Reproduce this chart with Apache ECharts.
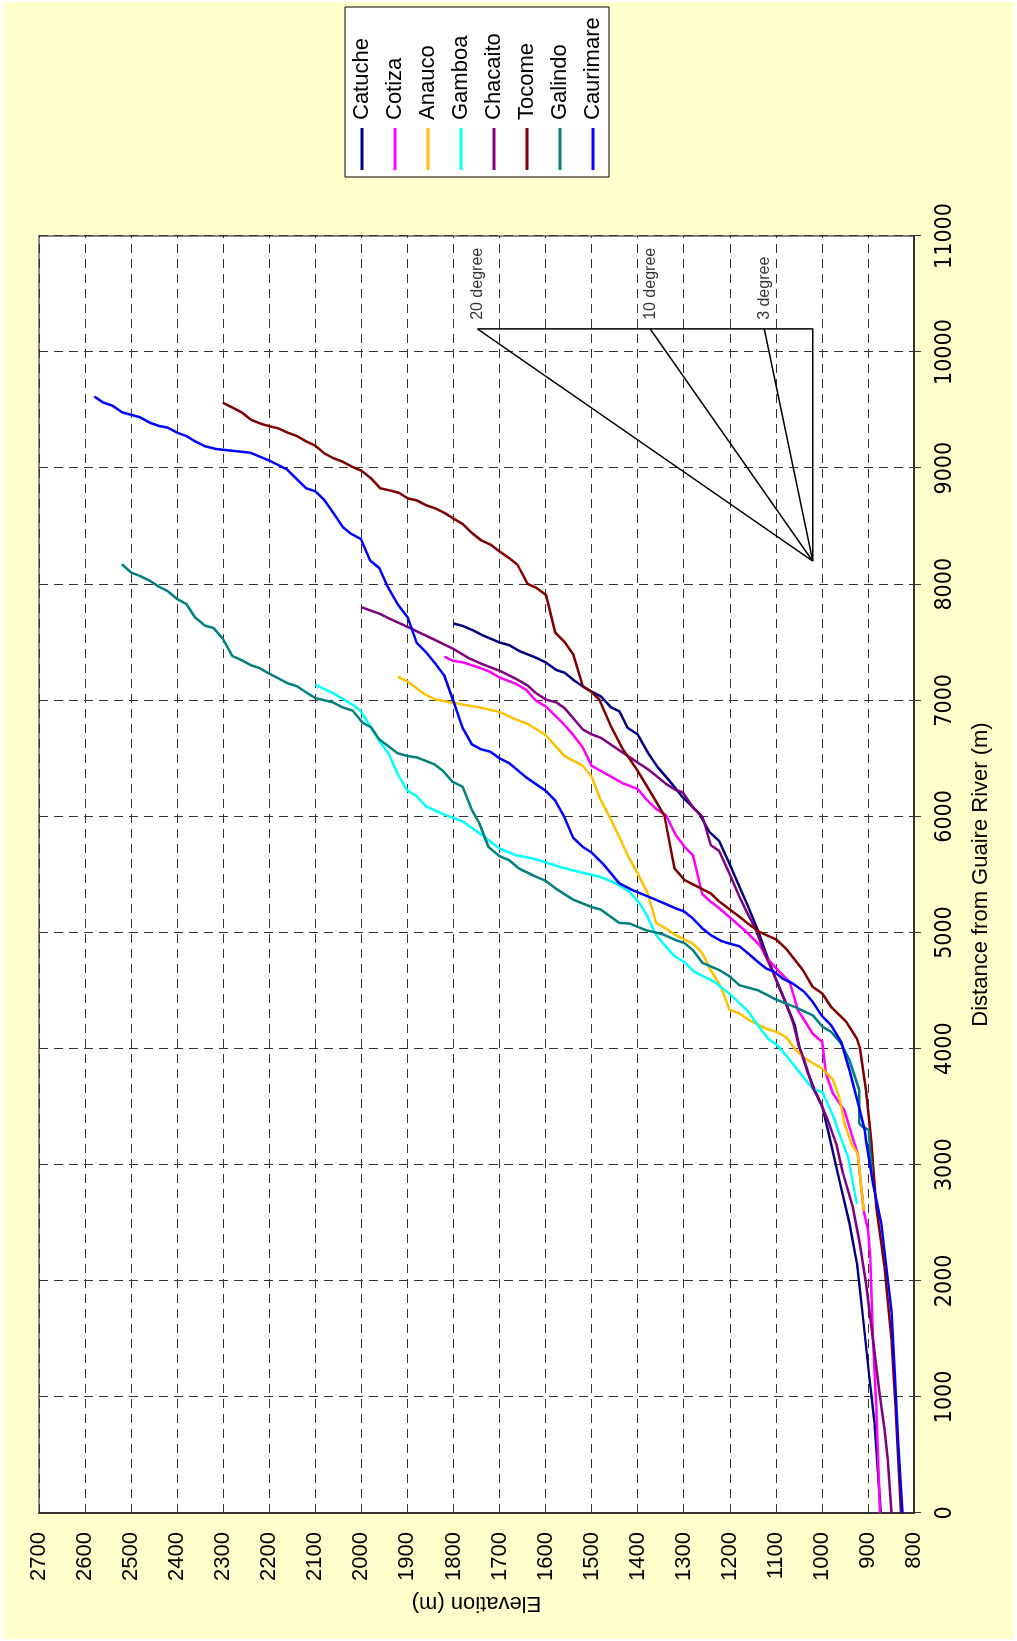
<!DOCTYPE html>
<html>
<head>
<meta charset="utf-8">
<script src="https://cdn.jsdelivr.net/npm/echarts@6/dist/echarts.min.js"></script>
<style>
  html, body { margin: 0; padding: 0; width: 1017px; height: 1641px; overflow: hidden; background: #ffffff; }
  #paper { position: absolute; left: 3px; top: 2px; width: 1011px; height: 1637px; background: #ffffcc; }
  /* chart is drawn landscape and turned a quarter turn left, like the reference */
  #chart { position: absolute; left: 0; top: 1641px; width: 1641px; height: 1017px; transform: rotate(-90deg); transform-origin: 0 0; }
</style>
</head>
<body>
<div id="paper"></div>
<div id="chart"></div>
<script>
// [distance from Guaire River (m), elevation (m)]
var catuche = [[0,872],[349,878],[778,886],[1207,898],[1693,911],[2151,924],[2494,940],[2866,962],[3267,985],[3497,999],[3612,1012],[3784,1030],[4014,1049],[4201,1059],[4388,1078],[4589,1099],[4819,1121],[5020,1139],[5224,1160],[5396,1179],[5595,1201],[5789,1223],[5866,1244],[6023,1266],[6165,1302],[6307,1331],[6421,1356],[6550,1378],[6707,1400],[6763,1422],[6906,1440],[6940,1458],[7034,1480],[7071,1498],[7120,1519],[7168,1537],[7239,1559],[7262,1577],[7328,1600],[7368,1621],[7425,1657],[7476,1679],[7499,1700],[7561,1737],[7604,1758],[7641,1780],[7662,1800]];
var cotiza = [[0,874],[921,882],[1493,889],[2208,895],[2437,900],[2602,909],[3094,922],[3267,936],[3468,951],[3612,976],[3784,991],[4057,999],[4129,1020],[4244,1038],[4330,1052],[4575,1070],[4618,1081],[4690,1099],[4790,1121],[4891,1135],[5006,1164],[5121,1197],[5207,1222],[5264,1241],[5333,1260],[5666,1280],[5737,1298],[5837,1317],[6008,1338],[6065,1360],[6151,1382],[6236,1400],[6285,1432],[6350,1461],[6436,1500],[6592,1519],[6707,1541],[6806,1563],[6949,1600],[6997,1621],[7091,1642],[7142,1664],[7197,1700],[7248,1722],[7282,1744],[7328,1780],[7339,1800],[7376,1820]];
var anauco = [[2602,909],[3094,922],[3181,936],[3353,951],[3583,962],[3733,976],[3827,999],[3876,1020],[3928,1041],[4000,1059],[4100,1078],[4144,1099],[4172,1121],[4244,1157],[4302,1179],[4336,1201],[4532,1219],[4675,1241],[4825,1260],[4905,1280],[4977,1317],[5034,1338],[5083,1360],[5336,1378],[5509,1400],[5666,1422],[5823,1440],[5994,1461],[6165,1483],[6342,1500],[6436,1519],[6521,1559],[6701,1600],[6798,1639],[6835,1664],[6900,1700],[6934,1737],[6977,1798],[7006,1838],[7054,1863],[7162,1900],[7205,1921]];
var gamboa = [[2660,924],[3066,943],[3267,962],[3425,976],[3626,999],[3655,1020],[3813,1052],[3942,1078],[4037,1099],[4086,1117],[4201,1139],[4325,1161],[4474,1201],[4575,1233],[4618,1255],[4661,1277],[4747,1299],[4796,1320],[4876,1338],[4977,1360],[5164,1382],[5253,1396],[5351,1418],[5424,1447],[5481,1483],[5532,1537],[5566,1570],[5604,1599],[5638,1628],[5666,1664],[5723,1700],[5837,1737],[5957,1780],[6022,1823],[6088,1860],[6179,1881],[6222,1900],[6364,1921],[6541,1941],[6650,1961],[6778,1981],[6906,2001],[6963,2019],[7063,2062],[7135,2100]];
var chacaito = [[0,849],[463,857],[721,864],[1035,875],[1493,889],[1979,904],[2322,918],[2637,933],[2923,954],[3181,969],[3382,987],[3526,1002],[3669,1020],[3899,1038],[4014,1049],[4230,1063],[4417,1081],[4589,1099],[4790,1121],[5020,1143],[5193,1165],[5310,1179],[5509,1201],[5703,1223],[5752,1241],[5994,1259],[6079,1280],[6208,1302],[6228,1317],[6279,1338],[6364,1364],[6407,1378],[6464,1400],[6570,1440],[6678,1480],[6707,1500],[6749,1519],[6934,1559],[6983,1577],[7006,1599],[7063,1621],[7128,1639],[7185,1664],[7256,1700],[7311,1737],[7362,1766],[7447,1802],[7524,1842],[7633,1900],[7704,1939],[7747,1961],[7804,2001]];
var tocome = [[0,828],[921,840],[1493,849],[2122,864],[2637,882],[3209,893],[3641,904],[4014,918],[4086,924],[4230,947],[4359,980],[4474,999],[4532,1020],[4675,1041],[4862,1078],[4940,1099],[5006,1136],[5078,1161],[5149,1183],[5264,1222],[5336,1241],[5452,1298],[5552,1320],[6008,1342],[6222,1374],[6393,1400],[6578,1432],[6778,1458],[7006,1483],[7071,1500],[7120,1519],[7396,1540],[7504,1559],[7584,1579],[7908,1599],[7971,1621],[8003,1639],[8168,1661],[8225,1679],[8283,1700],[8341,1719],[8379,1740],[8442,1760],[8520,1780],[8566,1800],[8616,1820],[8653,1839],[8682,1860],[8723,1880],[8740,1899],[8789,1919],[8809,1939],[8827,1959],[8913,1979],[8977,1999],[9012,2020],[9055,2040],[9087,2061],[9127,2080],[9194,2100],[9231,2120],[9277,2140],[9306,2160],[9344,2181],[9361,2199],[9381,2217],[9416,2239],[9483,2261],[9520,2279],[9564,2301]];
var galindo = [[2950,891],[3155,896],[3299,898],[3328,912],[3356,919],[3643,919],[3899,940],[4043,958],[4144,980],[4187,998],[4287,1020],[4359,1059],[4422,1099],[4503,1139],[4546,1179],[4624,1201],[4675,1222],[4738,1259],[4848,1280],[4911,1299],[4934,1317],[4986,1346],[5020,1382],[5078,1418],[5083,1440],[5198,1480],[5221,1501],[5285,1541],[5379,1578],[5444,1599],[5481,1621],[5552,1658],[5623,1679],[5658,1700],[5737,1724],[5943,1744],[6057,1760],[6256,1780],[6299,1802],[6393,1823],[6450,1842],[6507,1878],[6521,1900],[6544,1921],[6664,1961],[6769,1979],[6806,1997],[6912,2019],[6940,2041],[6983,2062],[7020,2100],[7069,2120],[7122,2140],[7147,2160],[7191,2181],[7228,2199],[7278,2221],[7301,2239],[7344,2259],[7382,2280],[7532,2301],[7624,2321],[7642,2339],[7714,2361],[7830,2380],[7873,2400],[7942,2421],[7980,2440],[8032,2460],[8072,2481],[8101,2500],[8173,2520]];
var caurimare = [[0,825],[635,835],[1207,842],[1736,849],[2122,860],[2494,871],[2837,889],[3209,904],[3296,907],[3540,922],[3813,940],[4057,958],[4201,980],[4287,1001],[4402,1020],[4488,1038],[4560,1063],[4603,1085],[4661,1103],[4690,1121],[4747,1139],[4813,1158],[4882,1179],[4905,1201],[4928,1219],[4977,1241],[5034,1259],[5121,1280],[5184,1300],[5207,1317],[5244,1338],[5293,1367],[5365,1411],[5424,1440],[5595,1476],[5689,1500],[5737,1519],[5817,1540],[5994,1559],[6137,1579],[6222,1600],[6336,1642],[6459,1679],[6501,1700],[6558,1720],[6578,1740],[6621,1760],[6763,1780],[6991,1800],[7214,1820],[7315,1839],[7416,1860],[7497,1880],[7711,1899],[7827,1921],[7980,1943],[8139,1961],[8205,1981],[8390,2001],[8434,2022],[8491,2040],[8616,2061],[8723,2080],[8801,2100],[8827,2120],[8905,2140],[8988,2161],[9064,2199],[9133,2241],[9159,2301],[9165,2315],[9188,2339],[9231,2361],[9277,2380],[9306,2400],[9350,2421],[9364,2440],[9393,2460],[9439,2481],[9460,2500],[9480,2519],[9540,2541],[9566,2561],[9618,2580]];

var riverNames = ['Catuche', 'Cotiza', 'Anauco', 'Gamboa', 'Chacaito', 'Tocome', 'Galindo', 'Caurimare'];
var riverData = [catuche, cotiza, anauco, gamboa, chacaito, tocome, galindo, caurimare];
var riverColors = ['#000080', '#ff00ff', '#ffc000', '#00ffff', '#800080', '#800000', '#008080', '#0000ff'];

// slope guide: apex, top distance, top elevations of each slope
var slopeApex = [8200, 1020];
var slopeTopDist = 10200;
var slopeTopElev = [1748, 1373, 1125];
var slopeLabels = ['20 degree', '10 degree', '3 degree'];

var sans = '"Liberation Sans", Arial, sans-serif';
var narrow = '"Liberation Sans Narrow", "Arial Narrow", "DejaVu Sans Condensed", sans-serif';

var myChart = echarts.init(document.getElementById('chart'), null, { renderer: 'canvas' });

var series = riverNames.map(function (name, i) {
    return {
        name: name,
        type: 'line',
        data: riverData[i],
        showSymbol: false,
        symbol: 'none',
        smooth: false,
        lineStyle: { width: 2.5, color: riverColors[i] },
        itemStyle: { color: riverColors[i] },
        z: 3 + i
    };
});

// triangle outline and the slope lines
var triangle = [slopeApex, [slopeTopDist, slopeApex[1]], [slopeTopDist, slopeTopElev[0]], slopeApex];
series.push({
    type: 'line', data: triangle, symbol: 'none', silent: true,
    lineStyle: { width: 1.5, color: '#000' }, z: 2
});
slopeTopElev.slice(1).forEach(function (e) {
    series.push({
        type: 'line', data: [[slopeTopDist, e], slopeApex], symbol: 'none', silent: true,
        lineStyle: { width: 1.5, color: '#000' }, z: 2
    });
});
series.push({
    type: 'scatter',
    symbolSize: 0,
    silent: true,
    data: slopeTopElev.map(function (e, i) { return { value: [slopeTopDist, e], name: slopeLabels[i] }; }),
    label: {
        show: true,
        position: 'right',
        distance: 9,
        formatter: function (p) { return p.name; },
        fontSize: 16,
        fontFamily: sans,
        color: '#000'
    }
});

var option = {
    animation: false,
    backgroundColor: 'transparent',
    graphic: [{
        type: 'rect',
        shape: { x: 1464, y: 345, width: 170, height: 264 },
        style: { fill: '#ffffff', stroke: '#000000', lineWidth: 1 },
        z: 0
    }],
    legend: {
        data: riverNames,
        orient: 'vertical',
        left: 1471,
        top: 350,
        icon: 'rect',
        itemWidth: 42,
        itemHeight: 3,
        itemGap: 9,
        padding: 0,
        textStyle: { fontSize: 22, lineHeight: 24, fontFamily: sans, color: '#000', padding: [0, 0, 0, 3] }
    },
    grid: {
        left: 128,
        top: 39,
        width: 1277,
        height: 875,
        show: true,
        backgroundColor: '#ffffff',
        borderColor: '#888888',
        borderWidth: 2
    },
    xAxis: {
        type: 'value',
        min: 0,
        max: 11000,
        interval: 1000,
        name: 'Distance from Guaire River (m)',
        nameLocation: 'middle',
        nameGap: 56,
        nameTextStyle: { fontSize: 22, fontFamily: sans, color: '#000' },
        axisLine: { show: true, onZero: false, lineStyle: { color: '#333', width: 2 } },
        axisTick: { show: true, inside: false, length: 7, lineStyle: { color: '#333' } },
        axisLabel: {
            fontSize: 23, fontFamily: narrow, color: '#000', margin: 20,
            formatter: function (v) { return String(v); }
        },
        splitLine: { show: true, lineStyle: { color: '#333', width: 1, type: [9, 6] } }
    },
    yAxis: {
        type: 'value',
        min: 800,
        max: 2700,
        interval: 100,
        name: 'Elevation (m)',
        nameLocation: 'middle',
        nameGap: 79,
        nameTextStyle: { fontSize: 22, fontFamily: sans, color: '#000' },
        axisLine: { show: true, onZero: false, lineStyle: { color: '#333', width: 2 } },
        axisTick: { show: true, inside: true, length: 7, lineStyle: { color: '#333' } },
        axisLabel: {
            fontSize: 22, fontFamily: sans, color: '#000', margin: 19,
            formatter: function (v) { return String(v); }
        },
        splitLine: { show: true, lineStyle: { color: '#333', width: 1, type: [9, 6] } }
    },
    series: series
};

option && myChart.setOption(option);
</script>
</body>
</html>
